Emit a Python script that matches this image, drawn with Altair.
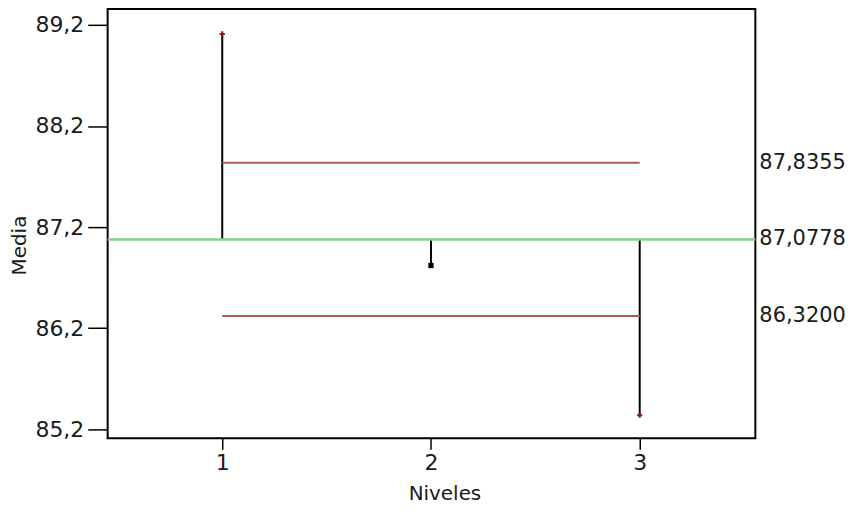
import altair as alt
import pandas as pd

# ---- data ----
levels = [1, 2, 3]
means = [89.11, 86.82, 85.34]
center = 87.0778
upper = 87.8355
lower = 86.3200
y_ticks = [85.2, 86.2, 87.2, 88.2, 89.2]
x_ticks = [1, 2, 3]
point_colors = ["#8b1a1a", "black", "#8b1a1a"]
point_shapes = ["cross", "square", "cross"]

FONT = "DejaVu Sans"
W, H = 650, 431

xs = alt.Scale(domain=[0.451, 3.554], nice=False, zero=False)
ys = alt.Scale(domain=[85.111, 89.358], nice=False, zero=False)
xax = alt.Axis(values=x_ticks, format="d", tickSize=11, labelPadding=3,
               titleX=338, titlePadding=10)
yax = alt.Axis(values=y_ticks, tickSize=20, labelPadding=4,
               labelExpr="replace(format(datum.value, '.1f'), '.', ',')",
               titlePadding=5, titleY=237)

df_means = pd.DataFrame({
    "level": levels,
    "mean": means,
    "center": [center] * len(levels),
    "color": point_colors,
    "shape": point_shapes,
})
df_center = pd.DataFrame({"v": [center]})
df_limits = pd.DataFrame({"v": [upper, lower], "x1": [levels[0]] * 2, "x2": [levels[-1]] * 2})
lab_vals = [upper, center, lower]
df_labels = pd.DataFrame({
    "v": lab_vals,
    "label": [f"{v:.4f}".replace(".", ",") for v in lab_vals],
})


def X(field):
    return alt.X(field, scale=xs, axis=xax, title="Niveles")


def Y(field):
    return alt.Y(field, scale=ys, axis=yax, title="Media")


stems = alt.Chart(df_means).mark_rule(color="black", strokeWidth=2).encode(
    x=X("level:Q"), y=Y("center:Q"), y2="mean:Q",
)

center_line = alt.Chart(df_center).mark_rule(color="#7fd67f", strokeWidth=2.5).encode(
    y=Y("v:Q"),
)

limit_lines = alt.Chart(df_limits).mark_rule(color="#b05a5a", strokeWidth=2).encode(
    x=X("x1:Q"), x2="x2:Q", y=Y("v:Q"),
)

points = alt.Chart(df_means).mark_point(filled=True, size=28, opacity=1).encode(
    x=X("level:Q"), y=Y("mean:Q"),
    color=alt.Color("color:N", scale=None),
    shape=alt.Shape("shape:N", scale=None),
)

labels = alt.Chart(df_labels).mark_text(
    align="left", baseline="middle", font=FONT, fontSize=21, color="#1a1a1a"
).encode(
    x=alt.value(654),
    y=Y("v:Q"),
    text="label:N",
)

chart = alt.layer(stems, center_line, limit_lines, points, labels).properties(
    width=W, height=H,
    autosize=alt.AutoSizeParams(type="none"),
    padding={"left": 100, "top": 0, "right": 96, "bottom": 70},
).configure_view(
    stroke="black", strokeWidth=2
).configure_axis(
    domain=False, grid=False, tickColor="black", tickWidth=1.5,
    labelFont=FONT, labelFontSize=22, labelColor="#1a1a1a",
    titleFont=FONT, titleFontSize=20, titleFontWeight="normal", titleColor="#1a1a1a",
)

chart.save("out.html", embed_options={"renderer": "svg", "actions": False})
